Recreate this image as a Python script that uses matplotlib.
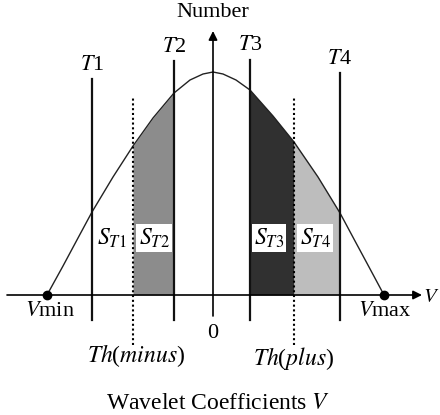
import matplotlib
matplotlib.use("Agg")
import matplotlib.pyplot as plt
import numpy as np

plt.rcParams['font.family'] = ['Liberation Serif', 'DejaVu Serif']
plt.rcParams['mathtext.fontset'] = 'stix'

# coefficient distribution (V vs number), read as a profile
v_curve = [-16.6, -15.0, -13.5, -12.1, -10.0, -8.0, -6.0, -3.9, -2.3, -1.0, 0.0,
           1.0, 2.3, 3.7, 6.0, 8.1, 10.5, 12.7, 14.2, 15.6, 17.1]
n_curve = [0.0, 2.9, 5.7, 8.3, 11.8, 14.9, 17.7, 20.2, 21.5, 22.1, 22.3,
           22.1, 21.5, 20.5, 17.9, 15.3, 11.8, 8.2, 5.4, 2.8, 0.0]

v_min, v_max = -16.6, 17.1
thresholds = [-12.1, -3.9, 3.7, 12.7]
threshold_names = ['T1', 'T2', 'T3', 'T4']
threshold_tops = [21.6, 23.4, 23.5, 22.2]
th_minus, th_plus = -8.0, 8.1

# shaded areas: (from, to, colour)
regions = [(th_minus, thresholds[1], '#8c8c8c'),
           (thresholds[2], th_plus, '#303030'),
           (th_plus, thresholds[3], '#bdbdbd')]
area_labels = ['T1', 'T2', 'T3', 'T4']
area_x = [-10.1, -5.9, 5.6, 10.2]

fig = plt.figure(figsize=(4.4, 4.15), dpi=100)
ax = fig.add_axes([0, 0, 1, 1])
ax.set_xlim(-21.3, 22.7)
ax.set_ylim(-12.0, 29.5)
ax.axis('off')

v = np.array(v_curve)
n = np.array(n_curve)
for lo, hi, col in regions:
    ax.fill_between(v, 0, n, where=(v >= lo) & (v <= hi), color=col, lw=0)

ax.plot(v, n, color='#222222', lw=1.0)

# axes with arrow heads
ax.annotate('', xy=(20.9, 0), xytext=(-20.6, 0),
            arrowprops=dict(arrowstyle='-|>', color='k', lw=1.2, mutation_scale=13,
                            shrinkA=0, shrinkB=0))
ax.annotate('', xy=(0, 26.4), xytext=(0, -2.1),
            arrowprops=dict(arrowstyle='-|>', color='k', lw=1.2, mutation_scale=13,
                            shrinkA=0, shrinkB=0))

for x, top, name in zip(thresholds, threshold_tops, threshold_names):
    ax.plot([x, x], [-2.5, top], color='#111111', lw=1.6)
    ax.text(x, top + 1.4, '$' + name[0] + '$' + name[1:], ha='center', va='center',
            fontsize=16)

for x in (th_minus, th_plus):
    ax.plot([x, x], [-5.0, 19.8], color='k', lw=1.5, ls=(0, (1, 1.3)))

ax.plot([v_min, v_max], [0, 0], 'o', color='k', ms=6)

for x, lab in zip(area_x, area_labels):
    box = None if lab == 'T1' else dict(facecolor='white', edgecolor='none', pad=1.5)
    ax.text(x, 5.7, r'$S_{%s}$' % lab, ha='center', va='center', fontsize=17,
            bbox=box)

ax.text(0, 28.2, 'Number', ha='center', va='center', fontsize=16)
ax.text(21.0, -0.3, '$V$', ha='left', va='center', fontsize=15)
ax.text(-16.3, -1.7, r'$V$min', ha='center', va='center', fontsize=16)
ax.text(17.2, -1.7, r'$V$max', ha='center', va='center', fontsize=16)
ax.text(0, -3.8, '0', ha='center', va='center', fontsize=16)
ax.text(-7.7, -6.1, r'$Th$($minus$)', ha='center', va='center', fontsize=17)
ax.text(8.1, -6.3, r'$Th$($plus$)', ha='center', va='center', fontsize=17)
ax.text(0.5, -10.8, r'Wavelet Coefficients $V$', ha='center', va='center', fontsize=17)

fig.savefig('out.png', dpi=100)
